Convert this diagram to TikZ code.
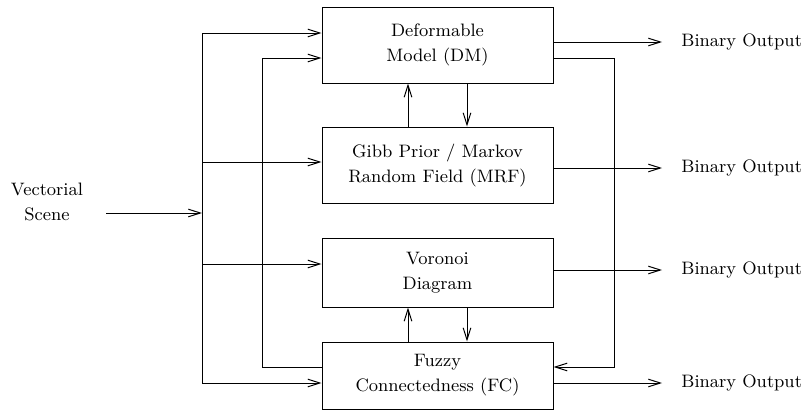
\documentclass[tikz,border=0pt]{standalone}
\usetikzlibrary{arrows.meta, positioning}

\begin{document}
\begin{tikzpicture}[x=0.5pt, y=-0.5pt, >={Straight Barb[length=6pt,width=3.8pt]}]

% --- Styles ---
\tikzset{
    algoBox/.style={draw=black, line width=0.5pt, minimum width=115.5pt, align=center, inner sep=0pt,
        font=\fontsize{9}{12.5}\selectfont},
    flowLine/.style={->, black, line width=0.5pt},
    busLine/.style={black, line width=0.5pt},
    outLabel/.style={anchor=west, inner xsep=9.5pt, inner ysep=0pt, font=\fontsize{9}{12.5}\selectfont},
}
\useasboundingbox (0,0) rectangle (805,413);

% --- Input ---
\node[align=center, inner xsep=11.5pt, font=\fontsize{9}{12.5}\selectfont] (scene) at (47, 202) {Vectorial\\Scene};

% --- The four boxes ---
\node[algoBox, minimum height=38pt] (dm) at (437.5, 45) {Deformable\\Model (DM)};
\node[algoBox, minimum height=38pt] (mrf) at (437.5, 165) {Gibb Prior / Markov\\Random Field (MRF)};
\node[algoBox, minimum height=34.5pt] (vd) at (437.5, 272.5) {Voronoi\\Diagram};
\node[algoBox, minimum height=33.5pt] (fc) at (437.5, 375.5) {Fuzzy\\Connectedness (FC)};

% --- Outputs ---
\node[outLabel] (out1) at (662, 42) {Binary Output};
\node[outLabel] (out2) at (662, 168) {Binary Output};
\node[outLabel] (out3) at (662, 270) {Binary Output};
\node[outLabel] (out4) at (662, 383) {Binary Output};

% --- Bus coordinates ---
\coordinate (busA) at (202, 213);
\coordinate (busTop) at (202, 33);
\coordinate (busBot) at (202, 383);
\coordinate (busB) at (262, 0);
\coordinate (fbX) at (614, 0);

\coordinate (dmIn) at ([yshift=6pt]dm.west);
\coordinate (dmIn2) at ([yshift=-6.5pt]dm.west);
\coordinate (mrfIn) at ([yshift=1.5pt]mrf.west);
\coordinate (vdIn) at ([yshift=4.25pt]vd.west);
\coordinate (fcIn) at ([yshift=-3.75pt]fc.west);
\coordinate (fcTap) at ([yshift=4.25pt]fc.west);
\coordinate (dmOut2) at ([yshift=-6.5pt]dm.east);
\coordinate (fcIn2) at ([yshift=4.25pt]fc.east);

% --- Input bus ---
\draw[flowLine] (scene.east |- busA) -- (busA);
\draw[busLine] (busTop) -- (busBot);
\draw[flowLine] (busTop) -- (dmIn);
\draw[flowLine] (busTop |- mrfIn) -- (mrfIn);
\draw[flowLine] (busTop |- vdIn) -- (vdIn);
\draw[flowLine] (busBot) -- (fcIn);

% --- FC back to DM ---
\draw[flowLine] (fcTap) -- (fcTap -| busB) -- (dmIn2 -| busB) -- (dmIn2);

% --- DM back to FC ---
\draw[flowLine] (dmOut2) -- (dmOut2 -| fbX) -- (fcIn2 -| fbX) -- (fcIn2);

% --- Exchanges between neighbours ---
\draw[flowLine] ([xshift=-14.75pt]mrf.north) -- ([xshift=-14.75pt]dm.south);
\draw[flowLine] ([xshift=14.75pt]dm.south) -- ([xshift=14.75pt]mrf.north);
\draw[flowLine] ([xshift=-14.75pt]fc.north) -- ([xshift=-14.75pt]vd.south);
\draw[flowLine] ([xshift=14.75pt]vd.south) -- ([xshift=14.75pt]fc.north);

% --- Binary outputs ---
\draw[flowLine] ([yshift=1.5pt]dm.east) -- (out1.west);
\draw[flowLine] ([yshift=-1.5pt]mrf.east) -- (out2.west);
\draw[flowLine] ([yshift=1.25pt]vd.east) -- (out3.west);
\draw[flowLine] ([yshift=-3.75pt]fc.east) -- (out4.west);

\end{tikzpicture}
\end{document}
